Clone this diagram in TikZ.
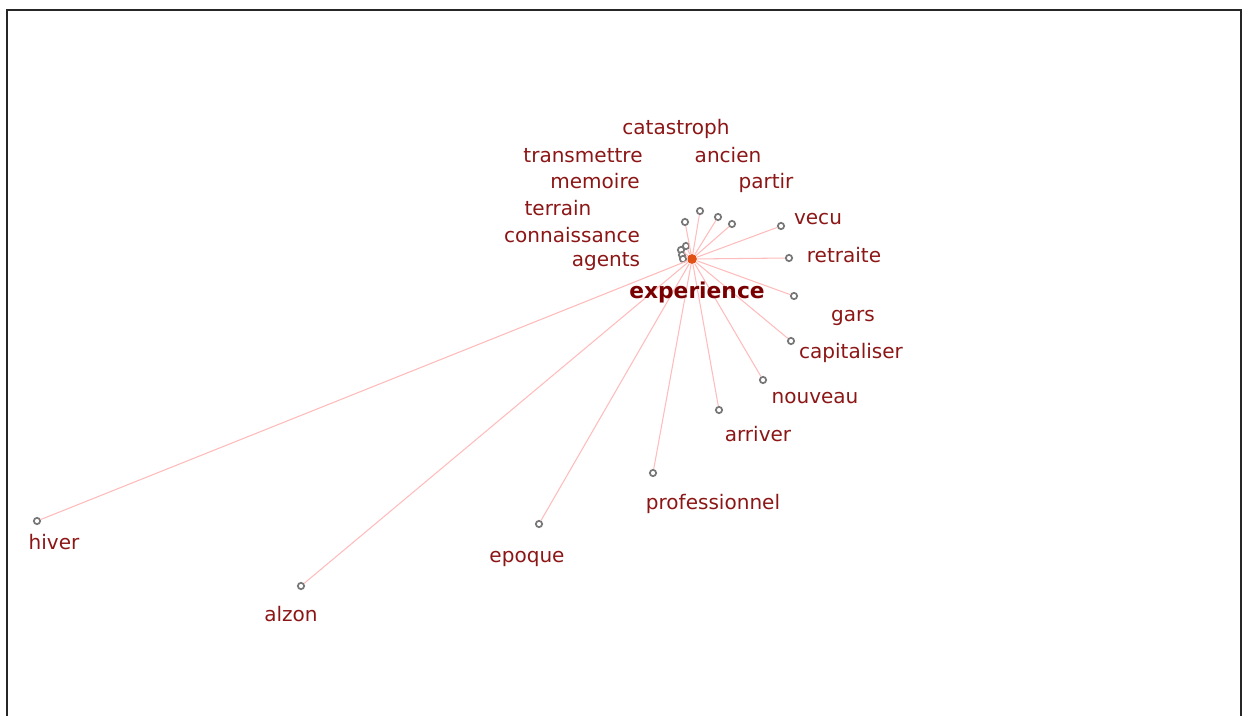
\documentclass[tikz,border=0pt]{standalone}
\usepackage{fontspec}
\setmainfont{DejaVu Sans}
\usepackage{xcolor}
\usepackage{tikz}

\definecolor{wordred}{RGB}{140,22,22}
\definecolor{hubword}{RGB}{120,0,0}
\definecolor{linkpink}{RGB}{255,188,188}
\definecolor{hubfill}{RGB}{225,80,20}
\definecolor{leafgray}{RGB}{120,120,120}

\begin{document}
\begin{tikzpicture}[
    x=0.02cm, y=-0.02cm,
    word/.style={text=wordred, anchor=mid, inner sep=0pt, yshift=-1.1pt,
                 font=\fontsize{11.4pt}{13pt}\selectfont},
    hubtxt/.style={text=hubword, anchor=mid, inner sep=0pt, yshift=-0.8pt,
                   font=\fontsize{12.4pt}{14pt}\selectfont\bfseries},
    leaf/.style={circle, draw=leafgray, fill=white, line width=1pt,
                 inner sep=0pt, minimum size=3.6pt},
    hub/.style={circle, fill=hubfill, inner sep=0pt, minimum size=5.6pt},
    link/.style={draw=linkpink, line width=0.6pt},
]

%% ── Canvas and frame (open at the bottom) ───────────────────────────────────
\useasboundingbox (0,0) rectangle (1245,716);
\coordinate (fr1) at (7,716);
\coordinate (fr2) at (7,10);
\coordinate (fr3) at (1241,10);
\coordinate (fr4) at (1241,716);
\draw[black!85, line width=1.1pt] (fr1) -- (fr2) -- (fr3) -- (fr4);

%% ── Hub node ────────────────────────────────────────────────────────────────
\node[hub] (exp) at (692,259) {};

%% ── Leaf nodes ──────────────────────────────────────────────────────────────
\node[leaf] (catastroph)    at (700,211) {};
\node[leaf] (ancien)        at (718,217) {};
\node[leaf] (partir)        at (732,224) {};
\node[leaf] (transmettre)   at (685,222) {};
\node[leaf] (memoire)       at (686,246) {};
\node[leaf] (terrain)       at (681,250) {};
\node[leaf] (connaissance)  at (682,255) {};
\node[leaf] (agents)        at (683,259) {};
\node[leaf] (vecu)          at (781,226) {};
\node[leaf] (retraite)      at (789,258) {};
\node[leaf] (gars)          at (794,296) {};
\node[leaf] (capitaliser)   at (791,341) {};
\node[leaf] (nouveau)       at (763,380) {};
\node[leaf] (arriver)       at (719,410) {};
\node[leaf] (professionnel) at (653,473) {};
\node[leaf] (epoque)        at (539,524) {};
\node[leaf] (alzon)         at (301,586) {};
\node[leaf] (hiver)         at (37,521)  {};

%% ── Links: hub to every leaf ────────────────────────────────────────────────
\foreach \w in {catastroph, ancien, partir, transmettre, memoire, terrain,
                connaissance, agents, vecu, retraite, gars, capitaliser,
                nouveau, arriver, professionnel, epoque, alzon, hiver}
  \draw[link] (exp) -- (\w);

%% ── Word labels ─────────────────────────────────────────────────────────────
\node[word] (lcatastroph)    at (676,128) {catastroph};
\node[word] (ltransmettre)   at (583,156) {transmettre};
\node[word] (lancien)        at (728,156) {ancien};
\node[word] (lmemoire)       at (595,182) {memoire};
\node[word] (lpartir)        at (766,182) {partir};
\node[word] (lterrain)       at (558,209) {terrain};
\node[word] (lvecu)          at (818,218) {vecu};
\node[word] (lconnaissance)  at (572,236) {connaissance};
\node[word] (lretraite)      at (844,256) {retraite};
\node[word] (lagents)        at (606,260) {agents};
\node[word] (lgars)          at (853,315) {gars};
\node[word] (lcapitaliser)   at (851,352) {capitaliser};
\node[word] (lnouveau)       at (815,397) {nouveau};
\node[word] (larriver)       at (758,435) {arriver};
\node[word] (lprofessionnel) at (713,503) {professionnel};
\node[word] (lepoque)        at (527,556) {epoque};
\node[word] (lalzon)         at (291,615) {alzon};
\node[word] (lhiver)         at (54,543)  {hiver};

%% ── Hub label ───────────────────────────────────────────────────────────────
\node[hubtxt] (lexp) at (697,292) {experience};

\end{tikzpicture}
\end{document}
